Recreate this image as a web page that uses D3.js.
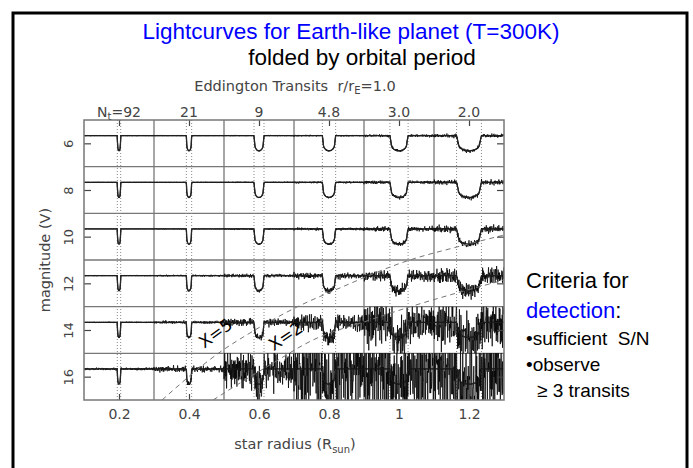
<!DOCTYPE html>
<html>
<head>
<meta charset="utf-8">
<script src="https://cdn.jsdelivr.net/npm/d3@7"></script>
<style>
  body { margin: 0; background: #fff; }
  svg { display: block; }
  text { white-space: pre; }
</style>
</head>
<body>
<svg id="chart" width="693" height="468"></svg>
<script>
// Star radius (R_sun) at the centre of each panel column
const radii = [0.2, 0.4, 0.6, 0.8, 1.0, 1.2];
// Number of transits observed for each column
const transitCounts = ["92", "21", "9", "4.8", "3.0", "2.0"];
// Transit duration, expressed in x-axis units (R_sun)
const transitWidths = [0.0097, 0.0152, 0.0286, 0.038, 0.052, 0.071];
// V magnitude of each panel row
const magnitudes = [6, 8, 10, 12, 14, 16];
// Photometric scatter (mag) per row (magnitude) and column (radius)
const scatter = [
  [0.013, 0.013, 0.026, 0.043, 0.077, 0.107],
  [0.013, 0.017, 0.034, 0.056, 0.094, 0.137],
  [0.017, 0.026, 0.043, 0.077, 0.129, 0.193],
  [0.026, 0.050, 0.090, 0.170, 0.300, 0.450],
  [0.034, 0.086, 0.200, 0.450, 1.200, 1.400],
  [0.070, 0.170, 1.100, 2.300, 2.500, 2.500]
];
// Displayed transit depth and baseline offset inside a row (mag)
const transitDepth = 0.65;
const baselineOffset = -0.33;
// Detection thresholds: limiting magnitude vs star radius
const thresholdX5 = [[0.323, 17.0], [0.497, 14.86], [0.574, 14.13], [0.709, 13.01], [0.817, 12.29], [1.031, 11.0], [1.166, 10.44], [1.3, 9.93]];
const thresholdX2 = [[0.469, 17.0], [0.546, 16.27], [0.631, 15.5], [0.754, 14.43], [0.917, 13.57], [1.031, 13.01], [1.166, 12.41], [1.3, 11.86]];
// Fixed normalised noise sequence used for the simulated photometry
const jitter = [
  0.12, -0.45, 0.33, -0.08, 0.71, -0.62, 0.05, 0.27, -0.91, 0.44, -0.17, 0.58, -0.36, 0.02, 0.83, -0.24,
  -0.55, 0.19, 0.66, -0.73, 0.31, -0.04, 0.48, -0.29, 0.95, -0.51, 0.14, -0.68, 0.37, 0.09, -0.42, 0.61,
  -0.13, 0.26, -0.87, 0.53, -0.21, 0.74, -0.06, 0.35, -0.59, 0.18, 0.89, -0.33, 0.07, -0.77, 0.42, -0.15,
  0.64, -0.48, 0.23, -0.02, 0.79, -0.39, 0.11, -0.66, 0.50, -0.26, 0.97, -0.11, 0.30, -0.57, 0.16, -0.82,
  0.45, -0.19, 0.68, -0.44, 0.03, 0.57, -0.71, 0.22, -0.35, 0.86, -0.09, 0.39, -0.63, 0.13, -0.28, 0.75,
  -0.52, 0.08, 0.47, -0.94, 0.29, -0.14, 0.62, -0.38, 0.20, -0.70, 0.54, -0.01, 0.81, -0.46, 0.17, -0.23,
  0.38, -0.60, 0.10, 0.70, -0.32, 0.25, -0.85, 0.49, -0.12, 0.63, -0.41, 0.04, 0.92, -0.53, 0.28, -0.18,
  0.56, -0.75, 0.15, -0.30, 0.43, -0.64, 0.21, 0.78, -0.47, 0.06, -0.89, 0.34, -0.20, 0.67, -0.37, 0.24
];

const svg = d3.select("#chart");
const x = d3.scaleLinear().domain([0.1, 1.3]).range([84, 504]);
const y = d3.scaleLinear().domain([5, 17]).range([120, 400]);
const plotFont = "DejaVu Sans";
const plotInk = "#444";
const gridInk = "#777";

// Slide frame
svg.append("rect")
  .attr("x", 13).attr("y", 13).attr("width", 674).attr("height", 490)
  .attr("fill", "none").attr("stroke", "#000").attr("stroke-width", 3);

// Slide titles
svg.append("text").attr("x", 351).attr("y", 39).attr("text-anchor", "middle")
  .attr("font-family", "Liberation Sans, Arial").attr("font-size", 22.5).attr("fill", "#0000ff")
  .text("Lightcurves for Earth-like planet (T=300K)");
svg.append("text").attr("x", 362).attr("y", 64.5).attr("text-anchor", "middle")
  .attr("font-family", "Liberation Sans, Arial").attr("font-size", 22.5).attr("fill", "#000")
  .text("folded by orbital period");

// Side notes
const notes = svg.append("g").attr("font-family", "Liberation Sans, Arial").attr("fill", "#000");
notes.append("text").attr("x", 526).attr("y", 288).attr("font-size", 22).text("Criteria for");
const det = notes.append("text").attr("x", 526).attr("y", 318).attr("font-size", 22);
det.append("tspan").attr("fill", "#0000ff").text("detection");
det.append("tspan").text(":");
notes.append("text").attr("x", 526).attr("y", 345).attr("font-size", 19).text("\u2022sufficient  S/N");
notes.append("text").attr("x", 526).attr("y", 371).attr("font-size", 19).text("\u2022observe");
notes.append("text").attr("x", 537).attr("y", 397).attr("font-size", 19).text("\u2265 3 transits");

// Clip regions: the whole plot and each magnitude row
const defs = svg.append("defs");
defs.append("clipPath").attr("id", "clip-plot").append("rect")
  .attr("x", x(0.1)).attr("y", y(5)).attr("width", x(1.3) - x(0.1)).attr("height", y(17) - y(5));
magnitudes.forEach((m, ri) => {
  defs.append("clipPath").attr("id", "clip-row" + ri).append("rect")
    .attr("x", x(0.1)).attr("y", y(m - 1)).attr("width", x(1.3) - x(0.1)).attr("height", y(m + 1) - y(m - 1));
});

// Panel grid
const grid = svg.append("g").attr("stroke", gridInk).attr("stroke-width", 1.3);
radii.slice(0, -1).forEach(r => {
  grid.append("line").attr("x1", x(r + 0.1)).attr("x2", x(r + 0.1)).attr("y1", y(5)).attr("y2", y(17));
});
magnitudes.slice(0, -1).forEach(m => {
  grid.append("line").attr("x1", x(0.1)).attr("x2", x(1.3)).attr("y1", y(m + 1)).attr("y2", y(m + 1));
});

// Transit window markers
const win = svg.append("g").attr("stroke", "#888").attr("stroke-width", 1).attr("stroke-dasharray", "1,2");
radii.forEach((r, ci) => {
  [-1, 1].forEach(s => {
    const xv = x(r + s * transitWidths[ci] / 2);
    win.append("line").attr("x1", xv).attr("x2", xv).attr("y1", y(5)).attr("y2", y(17));
  });
});

// Transit profile: short ingress, limb-darkened rounded bottom
function dipFraction(r, ci) {
  const t = Math.abs(r - radii[ci]) / (transitWidths[ci] / 2);
  if (t >= 1) return 0;
  if (t > 0.85) return (1 - t) / 0.15 * 0.55;
  return 0.55 + 0.45 * Math.sqrt(1 - (t / 0.85) * (t / 0.85));
}

const ptsPerColumn = 190;
const line = d3.line().x(d => x(d[0])).y(d => y(d[1]));

magnitudes.forEach((m, ri) => {
  const obs = [], model = [];
  radii.forEach((rc, ci) => {
    const r0 = rc - 0.1;
    for (let i = 0; i < ptsPerColumn; i++) {
      const r = r0 + 0.2 * i / ptsPerColumn;
      const g = ri * 977 + ci * ptsPerColumn + i;
      const j = 0.7 * jitter[g % 128] + 0.45 * jitter[(g * 7 + ri * 29 + ci * 13) % 127];
      const base = m + baselineOffset + transitDepth * dipFraction(r, ci);
      obs.push([r, base + scatter[ri][ci] * j]);
      model.push([r, base]);
    }
  });
  const row = svg.append("g").attr("clip-path", "url(#clip-row" + ri + ")");
  row.append("path").datum(model).attr("d", line)
    .attr("fill", "none").attr("stroke", "#111").attr("stroke-width", 1.3);
  row.append("path").datum(obs).attr("d", line)
    .attr("fill", "none").attr("stroke", "#000").attr("stroke-width", 0.75);
  row.append("path").datum(model).attr("d", line)
    .attr("fill", "none").attr("stroke", "#444").attr("stroke-width", 0.6);
});

// Detection threshold curves
const thr = svg.append("g").attr("clip-path", "url(#clip-plot)");
const curve = d3.line().curve(d3.curveMonotoneX).x(d => x(d[0])).y(d => y(d[1]));
[thresholdX5, thresholdX2].forEach(t => {
  thr.append("path").datum(t).attr("d", curve)
    .attr("fill", "none").attr("stroke", "#777").attr("stroke-width", 1).attr("stroke-dasharray", "5,4");
});
svg.append("text").attr("transform", "translate(219,338) rotate(-36)").attr("text-anchor", "middle")
  .attr("font-family", plotFont).attr("font-size", 17).attr("fill", "#000").text("X=5");
svg.append("text").attr("transform", "translate(289,341) rotate(-34)").attr("text-anchor", "middle")
  .attr("font-family", plotFont).attr("font-size", 17).attr("fill", "#000").text("X=2");

// Axes (ticks point inward)
const axisStyle = g => {
  g.select(".domain").remove();
  g.selectAll(".tick line").attr("stroke", plotInk).attr("stroke-width", 1.2);
  g.selectAll("text").attr("font-family", plotFont).attr("fill", plotInk);
};
svg.append("g").attr("transform", `translate(0,${y(17)})`)
  .call(d3.axisBottom(x).tickValues(radii).tickSizeInner(-6).tickSizeOuter(0).tickFormat(d3.format("~g")))
  .call(axisStyle)
  .call(g => g.selectAll("text").attr("y", 19).attr("dy", null).attr("font-size", 14));
svg.append("g").attr("transform", `translate(0,${y(5)})`)
  .call(d3.axisTop(x).tickValues(radii).tickSizeInner(-6).tickSizeOuter(0).tickFormat(() => ""))
  .call(axisStyle);
svg.append("g").attr("transform", `translate(${x(0.1)},0)`)
  .call(d3.axisLeft(y).tickValues(magnitudes).tickSizeInner(-7).tickSizeOuter(0).tickFormat(d3.format("d")))
  .call(axisStyle)
  .call(g => g.selectAll("text")
    .attr("x", null).attr("dy", null).attr("text-anchor", "middle").attr("font-size", 13)
    .attr("transform", "translate(-11,0) rotate(-90)"));
svg.append("g").attr("transform", `translate(${x(1.3)},0)`)
  .call(d3.axisRight(y).tickValues(magnitudes).tickSizeInner(-7).tickSizeOuter(0).tickFormat(() => ""))
  .call(axisStyle);

// Plot frame
svg.append("rect").attr("x", x(0.1)).attr("y", y(5)).attr("width", x(1.3) - x(0.1)).attr("height", y(17) - y(5))
  .attr("fill", "none").attr("stroke", gridInk).attr("stroke-width", 1.5);

// Transit counts above each column
const counts = svg.append("g").attr("font-family", plotFont).attr("font-size", 14).attr("fill", plotInk)
  .attr("text-anchor", "middle");
radii.forEach((r, ci) => {
  const t = counts.append("text").attr("x", x(r)).attr("y", 117);
  if (ci === 0) {
    t.append("tspan").text("N");
    t.append("tspan").attr("font-size", 10).attr("dy", 3).text("t");
    t.append("tspan").attr("dy", -3).text("=" + transitCounts[ci]);
  } else {
    t.text(transitCounts[ci]);
  }
});

// Axis titles
const topTitle = svg.append("text").attr("x", 295).attr("y", 91).attr("text-anchor", "middle")
  .attr("font-family", plotFont).attr("font-size", 14.5).attr("fill", plotInk);
topTitle.append("tspan").text("Eddington Transits  r/r");
topTitle.append("tspan").attr("font-size", 10).attr("dy", 3).text("E");
topTitle.append("tspan").attr("dy", -3).text("=1.0");

const xTitle = svg.append("text").attr("x", 295).attr("y", 449).attr("text-anchor", "middle")
  .attr("font-family", plotFont).attr("font-size", 14.5).attr("fill", plotInk);
xTitle.append("tspan").text("star radius (R");
xTitle.append("tspan").attr("font-size", 10).attr("dy", 4).text("sun");
xTitle.append("tspan").attr("dy", -4).text(")");

svg.append("text").attr("transform", "translate(50,260) rotate(-90)").attr("text-anchor", "middle")
  .attr("font-family", plotFont).attr("font-size", 14.5).attr("fill", plotInk).text("magnitude (V)");
</script>
</body>
</html>
